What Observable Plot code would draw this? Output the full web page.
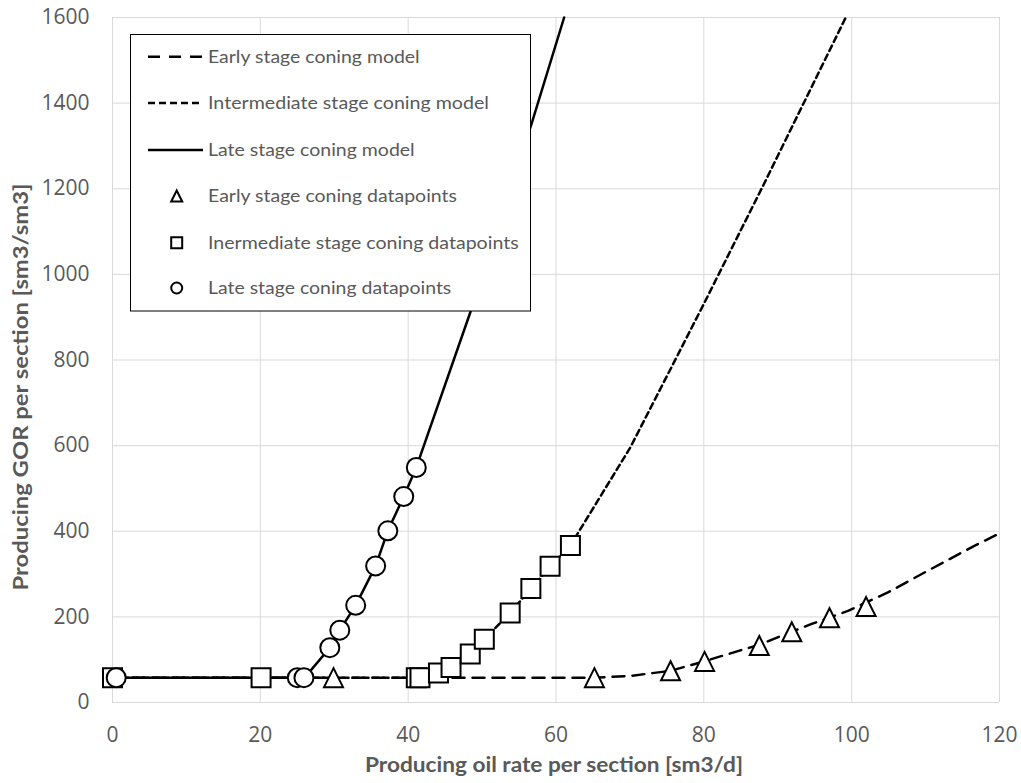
<!DOCTYPE html>
<html><head><meta charset="utf-8">
<script src="https://cdn.jsdelivr.net/npm/d3@7"></script>
<script src="https://cdn.jsdelivr.net/npm/@observablehq/plot@0.6"></script>
<style>body{margin:0;background:#fff}</style>
</head><body><div id="chart"></div>
<script>
// ---- data ----
const xTicks = [0, 20, 40, 60, 80, 100, 120];
const yTicks = [0, 200, 400, 600, 800, 1000, 1200, 1400, 1600];

const earlyModelX = [0, 65, 70, 75.5, 80, 87.5, 94.5, 99.5, 102, 104.9, 110, 116.6, 120];
const earlyModelY = [58, 58, 62, 74, 96, 135, 183, 214, 234, 257, 305, 366, 395];

const intermediateModelX = [0, 41.1, 41.6, 44.1, 45.8, 48.4, 50.3, 53.8, 56.6, 59.2, 61.95, 70, 75.5, 80, 88.1, 99.2];
const intermediateModelY = [58, 58, 58, 69, 82, 113, 148, 209, 266, 318, 367, 594, 779, 931, 1210, 1600];

const lateModelX = [0, 26, 29.4, 30.75, 32.9, 35.6, 37.25, 39.4, 41.1, 48.4, 56.7, 61.1];
const lateModelY = [58, 58, 128, 169, 227, 319, 401, 481, 549, 911, 1352, 1600];

const earlyPtsX = [29.9, 65.2, 75.5, 80.1, 87.5, 91.9, 97.0, 101.95];
const earlyPtsY = [58, 58, 74, 96, 133, 165, 198, 224];

const intermediatePtsX = [0, 20.1, 41.1, 41.6, 44.1, 45.8, 48.4, 50.3, 53.8, 56.6, 59.2, 61.95];
const intermediatePtsY = [58, 58, 58, 58, 69, 82, 113, 148, 209, 266, 318, 367];

const latePtsX = [0.5, 25, 25.9, 29.4, 30.75, 32.9, 35.6, 37.25, 39.4, 41.1];
const latePtsY = [58, 58, 58, 128, 169, 227, 319, 401, 481, 549];

const legendLabels = [
  "Early stage coning model",
  "Intermediate stage coning model",
  "Late stage coning model",
  "Early stage coning datapoints",
  "Inermediate stage coning datapoints",
  "Late stage coning datapoints"
];
const xTitle = "Producing oil rate per section [sm3/d]";
const yTitle = "Producing GOR per section [sm3/sm3]";

// ---- helpers ----
const zip = (xs, ys) => xs.map((x, i) => ({x, y: ys[i]}));
const triSym = {draw(ctx, size) { const r = Math.sqrt(size / Math.PI); ctx.moveTo(0, -r); ctx.lineTo(r, r); ctx.lineTo(-r, r); ctx.closePath(); }};
const sqSym = {draw(ctx, size) { const r = Math.sqrt(size / Math.PI); ctx.moveTo(-r, -r); ctx.lineTo(r, -r); ctx.lineTo(r, r); ctx.lineTo(-r, r); ctx.closePath(); }};

const dotOpts = {x: "x", y: "y", r: 9.5, stroke: "black", fill: "white", strokeWidth: 2};

const plot = Plot.plot({
  width: 1021, height: 783,
  marginLeft: 112, marginRight: 22, marginTop: 17, marginBottom: 81,
  style: {fontFamily: "'Open Sans', sans-serif", fontSize: "21px", color: "#595959", background: "#fff", overflow: "visible"},
  x: {domain: [0, 120], label: null},
  y: {domain: [0, 1600], label: null},
  marks: [
    Plot.gridX(xTicks, {stroke: "#d9d9d9", strokeOpacity: 1, strokeWidth: 1}),
    Plot.gridY(yTicks, {stroke: "#d9d9d9", strokeOpacity: 1, strokeWidth: 1}),
    Plot.axisX(xTicks, {tickSize: 0, tickPadding: 25, label: null, fill: "#595959", tickFormat: d => String(d)}),
    Plot.axisY(yTicks, {tickSize: 0, tickPadding: 23, label: null, fill: "#595959", tickFormat: d => String(d)}),
    Plot.line(zip(earlyModelX, earlyModelY), {x: "x", y: "y", stroke: "black", strokeWidth: 2.5, strokeDasharray: "12,8"}),
    Plot.line(zip(intermediateModelX, intermediateModelY), {x: "x", y: "y", stroke: "black", strokeWidth: 2.5, strokeDasharray: "6,4"}),
    Plot.line(zip(lateModelX, lateModelY), {x: "x", y: "y", stroke: "black", strokeWidth: 2.5}),
    Plot.dot(zip(earlyPtsX, earlyPtsY), {...dotOpts, symbol: triSym}),
    Plot.dot(zip(intermediatePtsX, intermediatePtsY), {...dotOpts, symbol: sqSym}),
    Plot.dot(zip(latePtsX, latePtsY), {...dotOpts, symbol: "circle"})
  ]
});
document.getElementById("chart").appendChild(plot);

const svg = d3.select(plot);
// axis titles
svg.append("text").attr("x", 554).attr("y", 772).attr("text-anchor", "middle")
  .attr("font-family", "Lato, sans-serif").attr("font-weight", "bold").attr("font-size", 21)
  .attr("fill", "#595959").attr("textLength", 378).attr("lengthAdjust", "spacingAndGlyphs").text(xTitle);
svg.append("text").attr("transform", "translate(28,387) rotate(-90)").attr("text-anchor", "middle")
  .attr("font-family", "Lato, sans-serif").attr("font-weight", "bold").attr("font-size", 21)
  .attr("fill", "#595959").attr("textLength", 407).attr("lengthAdjust", "spacingAndGlyphs").text(yTitle);

// legend
const lg = svg.append("g");
lg.append("rect").attr("x", 130.5).attr("y", 34.5).attr("width", 400).attr("height", 276.5)
  .attr("fill", "white").attr("stroke", "black").attr("stroke-width", 1);
const rowsY = [56.7, 103, 150, 196, 242.7, 288];
const textLens = [211.7, 281, 206.7, 249, 310.7, 243.3];
const dashes = ["12,9", "7,4", null];
rowsY.forEach((ry, i) => {
  if (i < 3) {
    const l = lg.append("line").attr("x1", 148).attr("x2", 203).attr("y1", ry).attr("y2", ry)
      .attr("stroke", "black").attr("stroke-width", 2.5);
    if (dashes[i]) l.attr("stroke-dasharray", dashes[i]);
  } else {
    const r = 5.5, cx = 176.7;
    let d;
    if (i === 3) d = `M${cx},${ry - r}L${cx + r},${ry + r}L${cx - r},${ry + r}Z`;
    else if (i === 4) d = `M${cx - r},${ry - r}H${cx + r}V${ry + r}H${cx - r}Z`;
    else d = `M${cx + r},${ry}A${r},${r} 0 1,1 ${cx - r},${ry}A${r},${r} 0 1,1 ${cx + r},${ry}Z`;
    lg.append("path").attr("d", d).attr("fill", "white").attr("stroke", "black").attr("stroke-width", 2);
  }
  lg.append("text").attr("x", 208).attr("y", ry + 6.3).attr("text-anchor", "start")
    .attr("font-family", "Lato, sans-serif").attr("font-size", 17.5).attr("fill", "#595959")
    .attr("textLength", textLens[i]).attr("lengthAdjust", "spacingAndGlyphs").text(legendLabels[i]);
});
</script>
</body></html>
